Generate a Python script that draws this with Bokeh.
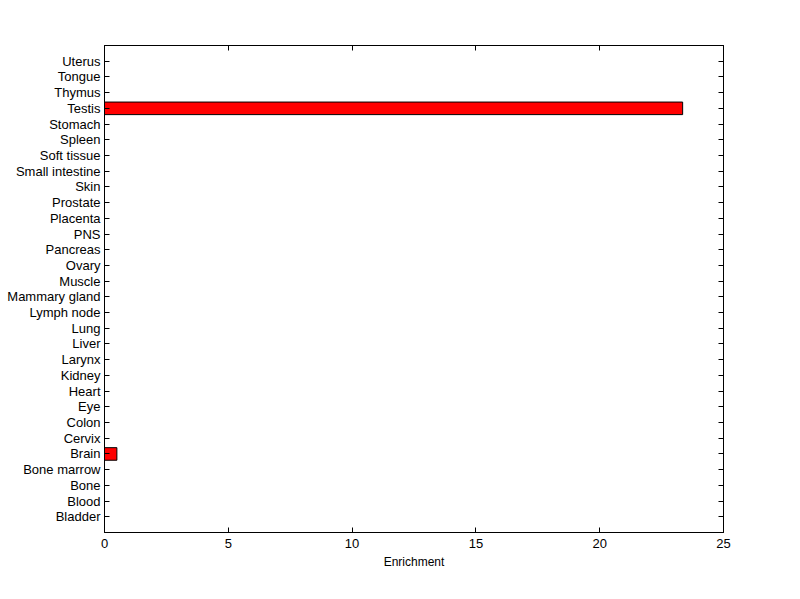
from bokeh.plotting import figure
from bokeh.models import LinearAxis, FixedTicker, Range1d, ColumnDataSource
from bokeh.embed import file_html
from bokeh.resources import INLINE

tissues = ["Bladder", "Blood", "Bone", "Bone marrow", "Brain", "Cervix", "Colon", "Eye",
           "Heart", "Kidney", "Larynx", "Liver", "Lung", "Lymph node", "Mammary gland",
           "Muscle", "Ovary", "Pancreas", "PNS", "Placenta", "Prostate", "Skin",
           "Small intestine", "Soft tissue", "Spleen", "Stomach", "Testis", "Thymus",
           "Tongue", "Uterus"]
enrichment = [0, 0, 0, 0, 0.5, 0, 0, 0, 0, 0, 0, 0, 0, 0, 0, 0, 0, 0, 0, 0, 0, 0,
              0, 0, 0, 0, 23.35, 0, 0, 0]
x_ticks = [0, 5, 10, 15, 20, 25]

pos = list(range(1, len(tissues) + 1))
src = ColumnDataSource(dict(y=pos, right=enrichment, name=tissues))

FONT = "Liberation Sans"

p = figure(frame_width=619, frame_height=487, output_backend="svg", toolbar_location=None,
           x_range=Range1d(0, 25), y_range=Range1d(0, len(tissues) + 1),
           x_axis_location="below", y_axis_location="left",
           min_border_left=104, min_border_right=69, min_border_top=45, min_border_bottom=59)
p.background_fill_color = "white"
p.border_fill_color = "white"
p.grid.visible = False
p.outline_line_color = "black"

p.hbar(y="y", left=0, right="right", height=0.8, source=src,
       fill_color="#ff0000", line_color="black", line_width=1)

xt = FixedTicker(ticks=x_ticks, minor_ticks=[])
yt = FixedTicker(ticks=pos, minor_ticks=[])
overrides = {i: t for i, t in zip(pos, tissues)}

def style(ax, labels=True):
    ax.major_tick_in = 5
    ax.major_tick_out = 0
    ax.minor_tick_in = 0
    ax.minor_tick_out = 0
    ax.axis_line_color = "black"
    ax.major_tick_line_color = "black"
    ax.major_label_text_font = FONT
    ax.major_label_text_font_size = "13px"
    ax.major_label_text_color = "black"
    if not labels:
        ax.major_label_text_alpha = 0
        ax.major_label_text_font_size = "0px"

xa = p.xaxis[0]
xa.ticker = xt
style(xa)
xa.major_label_standoff = 6
xa.axis_label = "Enrichment"
xa.axis_label_text_font = FONT
xa.axis_label_text_font_size = "12px"
xa.axis_label_text_font_style = "normal"
xa.axis_label_text_color = "black"
xa.axis_label_standoff = 4

ya = p.yaxis[0]
ya.ticker = yt
ya.major_label_overrides = overrides
style(ya)
ya.major_label_standoff = 4

top = LinearAxis(ticker=xt)
style(top, labels=False)
p.add_layout(top, "above")

right = LinearAxis(ticker=yt)
style(right, labels=False)
p.add_layout(right, "right")

open("out.html", "w").write(file_html(p, INLINE))
